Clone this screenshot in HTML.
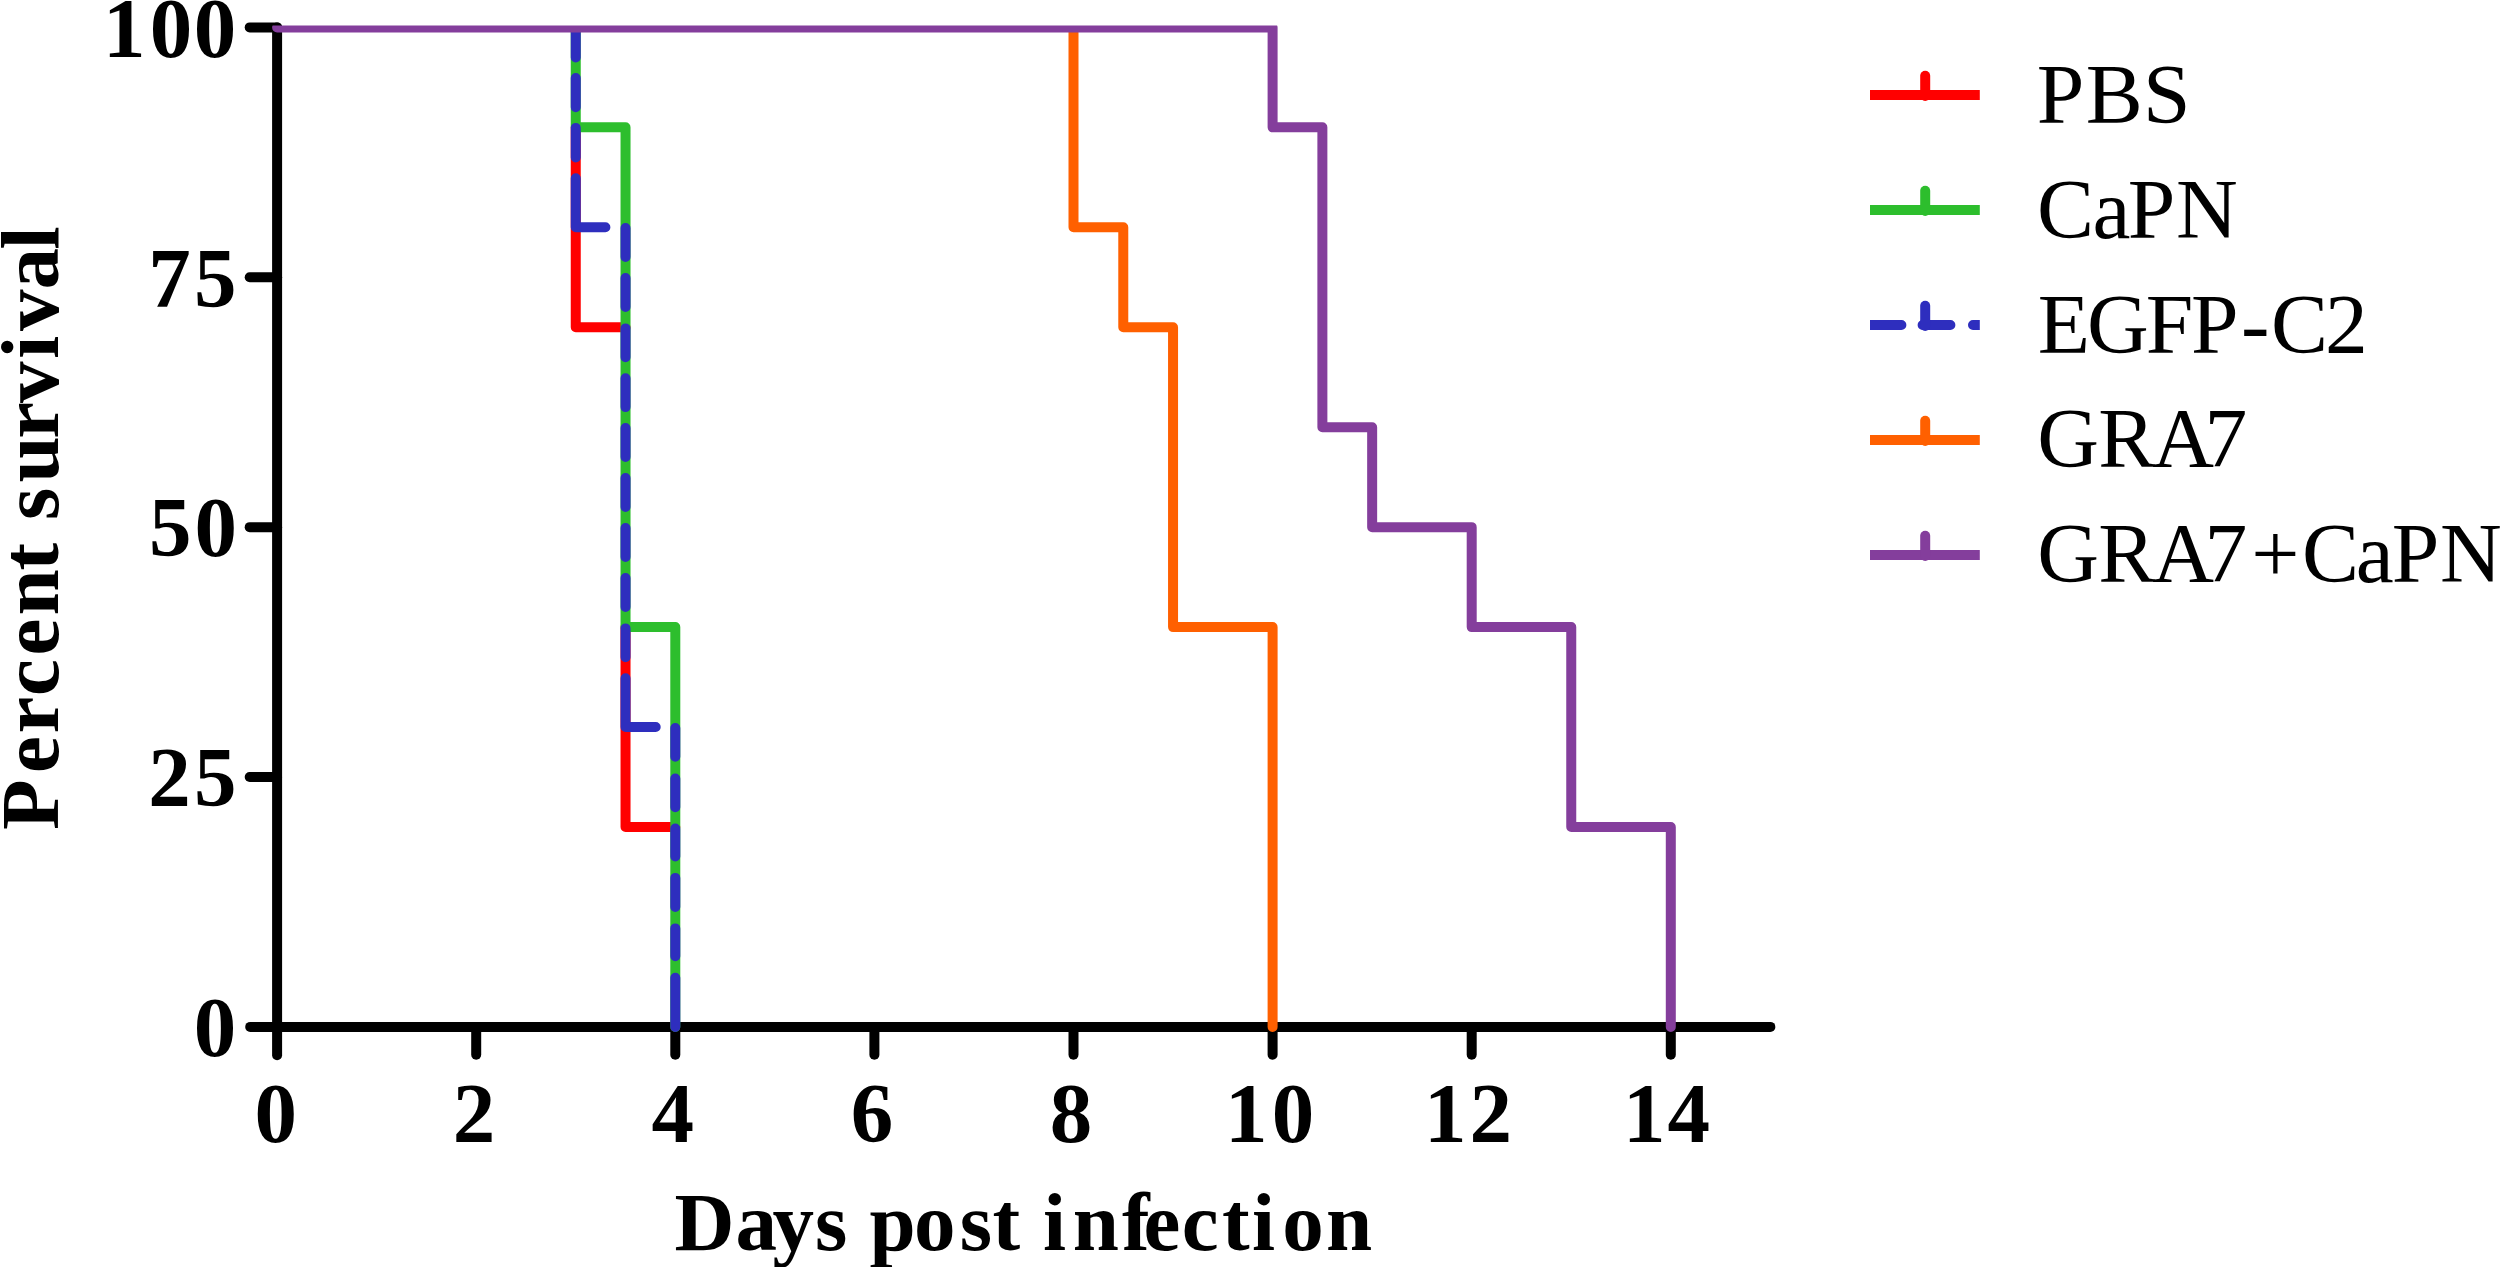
<!DOCTYPE html>
<html lang="en"><head><meta charset="utf-8"><title>Percent survival</title>
<style>
html,body{margin:0;padding:0;background:#fff;}
body{width:2500px;height:1267px;overflow:hidden;}
svg{display:block;}
text{font-family:"Liberation Serif",serif;fill:#000;}
.b{font-weight:bold;}
</style></head><body>
<svg width="2500" height="1267" viewBox="0 0 2500 1267">
<defs>
<clipPath id="plot"><rect x="0" y="25.6" width="2500" height="1260"/></clipPath>
<clipPath id="plot2"><rect x="0" y="28" width="2500" height="1260"/></clipPath>
<clipPath id="lg"><rect x="1870" y="0" width="109.8" height="1267"/></clipPath>
</defs>
<rect width="2500" height="1267" fill="#fff"/>

<g stroke="#000" stroke-width="10" stroke-linecap="round" stroke-linejoin="round" fill="none">
<path d="M277.1,27.4 L277.1,1055.3"/>
<path d="M249.7,27.4 L277.1,27.4"/>
<path d="M249.7,277.28 L277.1,277.28"/>
<path d="M249.7,527.15 L277.1,527.15"/>
<path d="M249.7,777.03 L277.1,777.03"/>
<path d="M250.2,1026.9 L1770.35,1026.9"/>
<path d="M476.2,1026.9 L476.2,1054.7"/>
<path d="M675.3,1026.9 L675.3,1054.7"/>
<path d="M874.4,1026.9 L874.4,1054.7"/>
<path d="M1073.5,1026.9 L1073.5,1054.7"/>
<path d="M1272.6,1026.9 L1272.6,1054.7"/>
<path d="M1471.7,1026.9 L1471.7,1054.7"/>
<path d="M1670.8,1026.9 L1670.8,1054.7"/>
</g>
<g fill="none" stroke-width="10" stroke-linecap="round" stroke-linejoin="round"><g clip-path="url(#plot2)">
<path stroke="#FF0000" d="M575.75,127.35 L575.75,327.25 L625.53,327.25 M625.53,627.1 L625.53,827.0 L675.3,827.0"/>
<path stroke="#2DBE2D" d="M575.75,27.4 L575.75,127.35 L625.53,127.35 L625.53,627.1 L675.3,627.1 L675.3,1026.9"/>
<path stroke="#2E2EBE" d="M575.75,28 L575.75,57.5 M575.75,78 L575.75,107.2 M575.75,127.9 L575.75,157.4 M575.75,178.3 L575.75,227.3 L605.4,227.3 M625.53,228.1 L625.53,257.0 M625.53,278 L625.53,306.9 M625.53,328.4 L625.53,357.3 M625.53,378.2 L625.53,407.1 M625.53,428.1 L625.53,457.0 M625.53,478.1 L625.53,507.0 M625.53,528.1 L625.53,557.0 M625.53,578.1 L625.53,607.0 M625.53,628.4 L625.53,657.3 M625.53,678.2 L625.53,727.05 L655.7,727.05 M675.3,728.1 L675.3,756.7 M675.3,778.6 L675.3,807.2 M675.3,828.6 L675.3,856.5 M675.3,877.9 L675.3,907 M675.3,928.4 L675.3,956.3 M675.3,977.7 L675.3,1026.9"/>
<path stroke="#FF6000" d="M1073.5,27.4 L1073.5,227.3 L1123.28,227.3 L1123.28,327.25 L1173.05,327.25 L1173.05,627.1 L1272.6,627.1 L1272.6,1026.9"/>
</g>
<path clip-path="url(#plot)" stroke="#843E9C" d="M277.1,27.4 L1272.6,27.4 L1272.6,127.35 L1322.38,127.35 L1322.38,427.2 L1372.15,427.2 L1372.15,527.15 L1471.7,527.15 L1471.7,627.1 L1571.25,627.1 L1571.25,827.0 L1670.8,827.0 L1670.8,1026.9"/>
</g>
<g class="b" font-size="85">
<text x="102.9 149.7 193.7" y="56.6">100</text>
<text x="148.3 194.1" y="306.5">75</text>
<text x="149.1 194.4" y="556.4">50</text>
<text x="148.3 194.1" y="806.2">25</text>
<text x="193.7" y="1056.1">0</text>
<text x="254.4" y="1142">0</text>
<text x="452.8" y="1142">2</text>
<text x="651.5" y="1142">4</text>
<text x="850.8" y="1142">6</text>
<text x="1049.8" y="1142">8</text>
<text x="1225.0 1271.8" y="1142">10</text>
<text x="1424.0 1469.5" y="1142">12</text>
<text x="1623.0 1667.6" y="1142">14</text>
</g>
<text class="b" font-size="83" x="674.6 735.4 772.6 815.0 847.3 869.5 914.0 959.8 992.6 1020.2 1043.1 1072.8 1122.1 1143.4 1181.7 1221.9 1252.1 1282.3 1326.1" y="1249.8">Days post infection</text>
<text class="b" font-size="83" transform="translate(57.6,1000) rotate(-90)" x="170.1 227.0 266.6 304.0 344.5 384.4 429.5 457.1 480.1 517.4 561.2 596.9 641.2 668.9 710.4 750.6" y="0">Percent survival</text>
<g stroke="#FF0000" stroke-width="10" fill="none"><path d="M1870,95 L1979.8,95"/><path stroke-linecap="round" d="M1925.2,75.8 L1925.2,96"/></g>
<text font-size="85.5" x="2036.7 2085.7 2142.9" y="122.5">PBS</text>
<g stroke="#2DBE2D" stroke-width="10" fill="none"><path d="M1870,210 L1979.8,210"/><path stroke-linecap="round" d="M1925.2,190.8 L1925.2,211"/></g>
<text font-size="85.5" x="2036.9 2092.6 2127.7 2176.1" y="237.6">CaPN</text>
<g stroke="#2E2EBE" stroke-width="10" fill="none" stroke-linecap="round"><path d="M1865,325 L1901.4,325 M1922.6,325 L1950.4,325 M1973,325 L1990,325" clip-path="url(#lg)"/><path d="M1925.2,305.8 L1925.2,326"/></g>
<text font-size="85.5" x="2037.8 2087.1 2145.8 2191.1 2241.1 2271.1 2325.0" y="352.5">EGFP-C2</text>
<g stroke="#FF6000" stroke-width="10" fill="none"><path d="M1870,440 L1979.8,440"/><path stroke-linecap="round" d="M1925.2,420.8 L1925.2,441"/></g>
<text font-size="85.5" x="2037.2 2098.3 2152.2 2204.4" y="467.4">GRA7</text>
<g stroke="#843E9C" stroke-width="10" fill="none"><path d="M1870,555 L1979.8,555"/><path stroke-linecap="round" d="M1925.2,535.8 L1925.2,556"/></g>
<text font-size="85.5" x="2037.2 2098.3 2152.2 2204.4 2251.2 2302.1 2355.8 2391.7 2440.1" y="582.4">GRA7+CaPN</text>
</svg></body></html>
